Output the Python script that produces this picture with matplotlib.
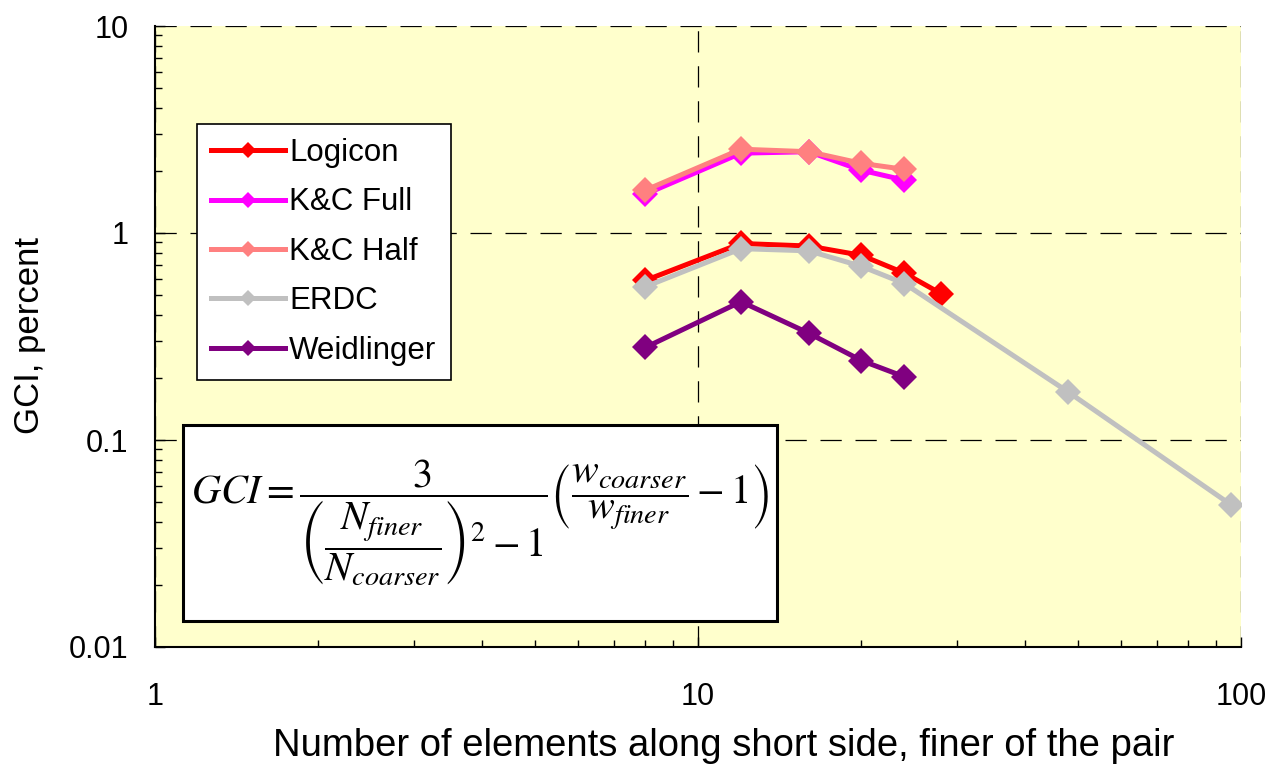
import matplotlib
matplotlib.use('Agg')
import matplotlib.pyplot as plt
import matplotlib.ticker as mticker
from matplotlib.patches import Rectangle

plt.rcParams['font.family'] = ['Liberation Sans', 'DejaVu Sans']
plt.rcParams['mathtext.fontset'] = 'stix'

# number of elements along short side (finer of the pair)
n_logicon = [8, 12, 16, 20, 24, 28]
n_short = [8, 12, 16, 20, 24]
n_erdc = [8, 12, 16, 20, 24, 48, 96]

# GCI, percent
gci_logicon = [0.59, 0.89, 0.865, 0.78, 0.64, 0.51]
gci_kc_full = [1.54, 2.43, 2.47, 2.01, 1.80]
gci_kc_half = [1.61, 2.54, 2.47, 2.17, 2.03]
gci_erdc = [0.55, 0.84, 0.82, 0.69, 0.57, 0.171, 0.0485]
gci_weidlinger = [0.28, 0.466, 0.328, 0.242, 0.202]

W, H = 1272, 773
fig = plt.figure(figsize=(W / 100, H / 100), dpi=100)
ax = fig.add_axes([155 / W, 1 - 647 / H, (1241 - 155) / W, (647 - 26) / H])
ax.set_facecolor('#FFFFCC')

series = [
    ('Logicon', n_logicon, gci_logicon, '#FF0000'),
    ('K&C Full', n_short, gci_kc_full, '#FF00FF'),
    ('K&C Half', n_short, gci_kc_half, '#FF8080'),
    ('ERDC', n_erdc, gci_erdc, '#C0C0C0'),
    ('Weidlinger', n_short, gci_weidlinger, '#800080'),
]
for name, xs, ys, col in series:
    ax.plot(xs, ys, color=col, lw=3.6, marker='D', ms=13, mew=0, label=name, zorder=3)

ax.set_xscale('log')
ax.set_yscale('log')
ax.set_xlim(1, 100)
ax.set_ylim(0.01, 10)

fmt = mticker.FuncFormatter(lambda v, p: '%g' % v)
ax.xaxis.set_major_formatter(fmt)
ax.yaxis.set_major_formatter(fmt)
ax.xaxis.set_minor_formatter(mticker.NullFormatter())
ax.yaxis.set_minor_formatter(mticker.NullFormatter())

ax.grid(True, which='major', color='black', lw=0.9, linestyle=(0, (17, 11)))
ax.set_axisbelow(True)
for s in ('top', 'right'):
    ax.spines[s].set_visible(False)
for s in ('left', 'bottom'):
    ax.spines[s].set_linewidth(1.5)
    ax.spines[s].set_color('black')

ax.tick_params(which='both', direction='in', color='black', width=1)
ax.tick_params(which='major', length=7)
ax.tick_params(which='minor', length=5)
ax.tick_params(axis='x', which='major', labelsize=22, pad=25)
ax.tick_params(axis='y', which='major', labelsize=22, pad=19)

fig.text(724 / W, 1 - 746 / H, 'Number of elements along short side, finer of the pair',
         fontsize=27.5, ha='center', va='center')
fig.text(30 / W, 1 - 335 / H, 'GCI, percent', fontsize=25, rotation=90,
         ha='center', va='center')

leg = ax.legend(loc='upper left', bbox_to_anchor=(197 / W, 1 - 124 / H),
                bbox_transform=fig.transFigure, borderaxespad=0, fontsize=22.5,
                frameon=True, fancybox=False, edgecolor='black', framealpha=1,
                handlelength=2.35, handletextpad=0.15, labelspacing=0.62,
                borderpad=0.45)
leg.get_frame().set_linewidth(1.2)
for h in leg.legend_handles:
    h.set_markersize(8)

# equation box
bx0, by0, bx1, by1 = 183, 425, 777, 621
fig.add_artist(Rectangle((bx0 / W, 1 - by1 / H), (bx1 - bx0) / W, (by1 - by0) / H,
                         transform=fig.transFigure, facecolor='white',
                         edgecolor='black', lw=2.2, zorder=5))
eq = (r'$GCI=\dfrac{3}{\left(\dfrac{N_{finer}}{N_{coarser}}\right)^{2}-1}'
      r'\left(\dfrac{w_{coarser}}{w_{finer}}-1\right)$')
fig.text((bx0 + bx1) / 2 / W, 1 - (by0 + by1) / 2 / H, eq, fontsize=29,
         ha='center', va='center', zorder=6)

fig.savefig('out.png', dpi=100)
